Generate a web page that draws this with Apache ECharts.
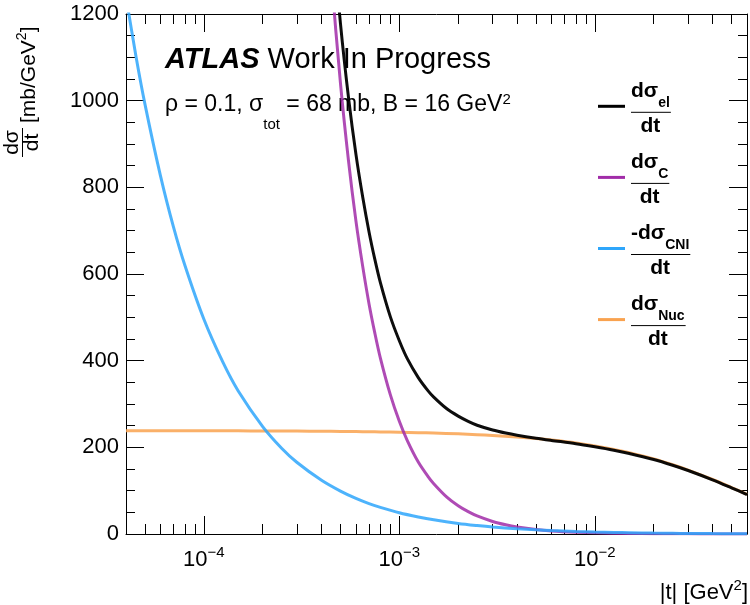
<!DOCTYPE html>
<html>
<head>
<meta charset="utf-8">
<script src="https://cdn.jsdelivr.net/npm/echarts@6.0.0/dist/echarts.min.js"></script>
<style>
  html, body { margin: 0; padding: 0; background: #fff; }
  #main { width: 750px; height: 605px; }
</style>
</head>
<body>
<div id="main"></div>
<script>
    // |t| range and y range
    var xMin = 4e-5, xMax = 0.06;
    var yMin = 0, yMax = 1200, yStep = 200;
    var xMajorTicks = [1e-4, 1e-3, 1e-2];
    var xMinorTicks = [5e-5, 6e-5, 7e-5, 8e-5, 9e-5,
        2e-4, 3e-4, 4e-4, 5e-4, 6e-4, 7e-4, 8e-4, 9e-4,
        2e-3, 3e-3, 4e-3, 5e-3, 6e-3, 7e-3, 8e-3, 9e-3,
        2e-2, 3e-2, 4e-2, 5e-2];

    // nuclear and -CNI share the full |t| grid
    var tGrid = [4e-5, 4.5e-5, 5e-5, 6e-5, 7e-5, 8e-5, 1e-4, 1.25e-4, 1.5e-4, 2e-4, 2.5e-4, 3e-4,
        4e-4, 5e-4, 6e-4, 7e-4, 8e-4, 1e-3, 1.25e-3, 1.5e-3, 2e-3, 2.5e-3, 3e-3, 4e-3,
        5e-3, 6e-3, 8e-3, 1e-2, 1.25e-2, 1.5e-2, 2e-2, 2.5e-2, 3e-2, 4e-2, 5e-2, 6e-2];
    var nucVals = [238.4, 238.4, 238.4, 238.4, 238.3, 238.3, 238.2, 238.1, 238.0, 237.8, 237.6, 237.5,
        237.1, 236.7, 236.3, 235.9, 235.6, 234.8, 233.9, 232.9, 231.1, 229.2, 227.4, 223.8,
        220.3, 216.9, 210.3, 203.3, 195.3, 187.7, 173.3, 159.9, 147.6, 125.8, 107.2, 91.4];
    var cniVals = [1240, 1102, 992, 827, 708, 620, 496, 397, 330, 248, 198, 165,
        124, 99, 82, 70, 61.5, 49, 39.3, 32.7, 24.4, 19.5, 16.1, 12.0,
        9.6, 7.9, 5.9, 4.6, 3.6, 3.0, 2.1, 1.6, 1.3, 0.9, 0.7, 0.5];

    // coulomb
    var tCoul = [3e-4, 4e-4, 4.5e-4, 5e-4, 5.5e-4, 6e-4, 6.5e-4, 7e-4, 7.5e-4, 8e-4, 9e-4, 1e-3,
        1.1e-3, 1.25e-3, 1.4e-3, 1.5e-3, 1.75e-3, 2e-3, 2.25e-3, 2.5e-3, 3e-3, 3.5e-3, 4e-3, 5e-3,
        6e-3, 8e-3, 1e-2, 1.5e-2, 2e-2, 3e-2, 4e-2, 6e-2];
    var coulVals = [2890, 1625, 1284, 1040, 860, 722, 617, 531, 463, 406, 321, 260,
        215, 166, 133, 116, 85, 65, 51.5, 41.6, 28.9, 21.3, 16.3, 10.4,
        7.2, 4.1, 2.6, 1.2, 0.65, 0.29, 0.16, 0.07];

    // elastic (total)
    var tEl = [4e-4, 4.5e-4, 5e-4, 5.5e-4, 6e-4, 6.5e-4, 7e-4, 7.5e-4, 8e-4, 9e-4, 1e-3, 1.1e-3,
        1.25e-3, 1.4e-3, 1.5e-3, 1.75e-3, 2e-3, 2.25e-3, 2.5e-3, 3e-3, 3.5e-3, 4e-3, 5e-3, 6e-3,
        8e-3, 1e-2, 1.25e-2, 1.5e-2, 2e-2, 2.5e-2, 3e-2, 4e-2, 5e-2, 6e-2];
    var elVals = [1738, 1411, 1178, 1006, 876, 777, 697, 633, 580, 501, 446, 404,
        361, 331, 316, 289, 272, 260, 251, 240, 233, 228, 221, 216,
        208.5, 201.3, 193.4, 185.9, 171.9, 158.7, 146.6, 125.1, 106.6, 91];

    var legendPre = ['dσ', 'dσ', '-dσ', 'dσ'];
    var legendSub = ['el', 'C', 'CNI', 'Nuc'];
    var colors = ['#000000', '#a12ca8', '#2ea6fb', '#f9a24f'];

    var FONT = "'Liberation Sans', Arial, sans-serif";
    var ctx = document.createElement('canvas').getContext('2d');
    function textW(s, size, weight) {
        ctx.font = (weight || 'normal') + ' ' + size + 'px "Liberation Sans"';
        return ctx.measureText(s).width;
    }
    function pairs(ts, vs) {
        return ts.map(function (t, i) { return [t, vs[i]]; });
    }
    function lg(v) { return Math.log10(v); }

    // legend with fraction labels
    var graphics = [];
    for (var i = 0; i < 4; i++) {
        var b = 112.3 + i * 71.1;
        var numW = textW(legendPre[i], 21, 'bold') + textW(legendSub[i], 14, 'bold');
        var cx = 631 + numW / 2;
        graphics.push({
            type: 'line', shape: {x1: 598, y1: b - 6, x2: 625, y2: b - 6},
            style: {stroke: colors[i], lineWidth: 3}
        });
        graphics.push({
            type: 'line', shape: {x1: 631, y1: b, x2: 631 + numW + 1, y2: b},
            style: {stroke: '#000', lineWidth: 1}
        });
        graphics.push({
            type: 'text', x: cx, y: b - 21,
            style: {
                text: '{n|' + legendPre[i] + '}{s|' + legendSub[i] + '}',
                align: 'center', verticalAlign: 'middle',
                rich: {
                    n: {fontSize: 21, fontWeight: 'bold', fontFamily: FONT, fill: '#000'},
                    s: {fontSize: 14, fontWeight: 'bold', fontFamily: FONT, fill: '#000', padding: [24, 0, 0, 0]}
                }
            }
        });
        graphics.push({
            type: 'text', x: cx, y: b + 14,
            style: {text: 'dt', align: 'center', verticalAlign: 'middle',
                font: 'bold 21px ' + FONT, fill: '#000'}
        });
    }

    // ATLAS label
    graphics.push({
        type: 'text', x: 165, y: 60,
        style: {
            text: '{a|ATLAS}{w| Work In Progress}',
            align: 'left', verticalAlign: 'middle',
            rich: {
                a: {fontSize: 29, fontWeight: 'bold', fontStyle: 'italic', fontFamily: FONT, fill: '#000'},
                w: {fontSize: 29, fontFamily: FONT, fill: '#000'}
            }
        }
    });
    graphics.push({
        type: 'text', x: 165, y: 105,
        style: {
            text: '{m|ρ = 0.1, σ}{s|tot}{m| = 68 mb, B = 16 GeV}{p|2}',
            align: 'left', verticalAlign: 'middle',
            rich: {
                m: {fontSize: 23, fontFamily: FONT, fill: '#000'},
                s: {fontSize: 15, fontFamily: FONT, fill: '#000', padding: [39, 0, 0, 0]},
                p: {fontSize: 15, fontFamily: FONT, fill: '#000', padding: [0, 0, 10, 0]}
            }
        }
    });

    // x axis title
    graphics.push({
        type: 'text', x: 748, y: 593,
        style: {
            text: '{m||t| [GeV}{p|2}{m|]}',
            align: 'right', verticalAlign: 'middle',
            rich: {
                m: {fontSize: 22, fontFamily: FONT, fill: '#000'},
                p: {fontSize: 15, fontFamily: FONT, fill: '#000', padding: [0, 0, 14, 0]}
            }
        }
    });

    // y axis title, rotated
    graphics.push({
        type: 'group', x: 0, y: 158, rotation: Math.PI / 2,
        children: [
            {type: 'text', x: 15.5, y: 12.6,
                style: {text: 'dσ', align: 'center', verticalAlign: 'middle', font: '21px ' + FONT, fill: '#000'}},
            {type: 'line', shape: {x1: 1, y1: 22.5, x2: 30, y2: 22.5}, style: {stroke: '#000', lineWidth: 1}},
            {type: 'text', x: 15.5, y: 32.6,
                style: {text: 'dt', align: 'center', verticalAlign: 'middle', font: '21px ' + FONT, fill: '#000'}},
            {type: 'text', x: 35, y: 29.6,
                style: {
                    text: '{m|[mb/GeV}{p|2}{m|]}', align: 'left', verticalAlign: 'middle',
                    rich: {
                        m: {fontSize: 21, fontFamily: FONT, fill: '#000'},
                        p: {fontSize: 14, fontFamily: FONT, fill: '#000', padding: [0, 0, 14, 0]}
                    }
                }}
        ]
    });

    var majorLog = xMajorTicks.map(lg);
    var minorLog = xMinorTicks.map(lg);

    function logAxis(pos) {
        return {
            type: 'log', logBase: 10, min: xMin, max: xMax, position: pos,
            axisLine: {show: true, onZero: false, lineStyle: {color: '#000', width: 1}},
            axisTick: {show: false},
            axisLabel: {show: false},
            splitLine: {show: false}
        };
    }
    function tickAxis(pos, vals, len, withLabels) {
        return {
            type: 'value', min: lg(xMin), max: lg(xMax), position: pos,
            axisLine: {show: false},
            axisTick: {show: true, inside: true, length: len, customValues: vals,
                lineStyle: {color: '#000', width: 1}},
            axisLabel: withLabels ? {
                show: true, margin: 11, customValues: vals,
                formatter: function (v) {
                    var e = Math.round(v);
                    return '{b|10}{e|' + (e < 0 ? '−' : '') + Math.abs(e) + '}';
                },
                rich: {
                    b: {fontSize: 22, fontFamily: FONT, color: '#000'},
                    e: {fontSize: 15, fontFamily: FONT, color: '#000', padding: [0, 0, 15, 0]}
                }
            } : {show: false},
            splitLine: {show: false}
        };
    }
    function yAxis(pos, withLabels) {
        return {
            type: 'value', min: yMin, max: yMax, interval: yStep, position: pos,
            axisLine: {show: true, onZero: false, lineStyle: {color: '#000', width: 1}},
            axisTick: {show: true, inside: true, length: 18, lineStyle: {color: '#000', width: 1}},
            minorTick: {show: true, splitNumber: 4, length: 9, lineStyle: {color: '#000', width: 1}},
            axisLabel: {show: withLabels, margin: 7, fontSize: 22, fontFamily: FONT, color: '#000',
                formatter: function (v) { return String(v); }},
            splitLine: {show: false}
        };
    }
    function curve(data, color, opacity) {
        return {
            type: 'line', xAxisIndex: 0, yAxisIndex: 0, data: data,
            showSymbol: false, symbol: 'none', smooth: 0.3, clip: true, silent: true,
            lineStyle: {color: color, width: 3, opacity: opacity}
        };
    }

    var chart = echarts.init(document.getElementById('main'));
    var option = {
        animation: false,
        backgroundColor: '#fff',
        grid: {left: 126, right: 3, top: 14, bottom: 71, containLabel: false, outerBoundsMode: 'none'},
        xAxis: [
            logAxis('bottom'),
            tickAxis('bottom', majorLog, 18, true),
            tickAxis('bottom', minorLog, 10, false),
            logAxis('top'),
            tickAxis('top', majorLog, 18, false),
            tickAxis('top', minorLog, 10, false)
        ],
        yAxis: [yAxis('left', true), yAxis('right', false)],
        series: [
            curve(pairs(tGrid, nucVals), colors[3], 0.85),
            curve(pairs(tCoul, coulVals), colors[1], 0.85),
            curve(pairs(tGrid, cniVals), colors[2], 0.85),
            curve(pairs(tEl, elVals), colors[0], 0.95)
        ],
        graphic: graphics
    };
    chart.setOption(option);
</script>
</body>
</html>
